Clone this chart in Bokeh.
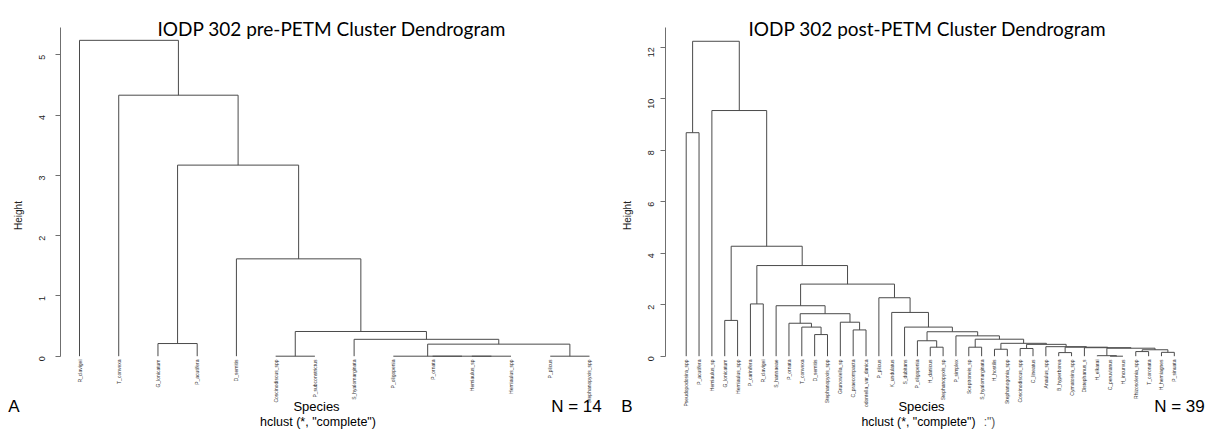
import math
from bokeh.plotting import figure
from bokeh.models import FixedTicker, LinearAxis, Range1d
from bokeh.core.properties import value
from bokeh.layouts import row
from bokeh.embed import file_html
from bokeh.resources import INLINE

# ---------------- data: pre-PETM ----------------
pre_labels = ["R_clavigei", "T_convexa", "G_lonicatum", "P_acutifera", "D_semitis",
              "Coscinodiscus_spp", "P_subconstrictus", "S_hyalomarginata", "P_oligopenia",
              "P_ornata", "Hemiaulus_sp", "Hemiaulus_spp", "P_plicus", "Stephanopyxis_spp"]
# R hclust style merge matrix (negative = leaf, positive = earlier merge)
pre_merge_a = [-11, -10, -9, -6, -13, 3, -3, -8, 4, -5, 7, -2, -1]
pre_merge_b = [-12, 1, 2, -7, -14, 5, -4, 6, 8, 9, 10, 11, 12]
pre_height = [0.0, 0.0, 0.0, 0.0, 0.0, 0.20, 0.21, 0.28, 0.41, 1.615, 3.17, 4.33, 5.24]
pre_yticks = [0, 1, 2, 3, 4, 5]

# ---------------- data: post-PETM ----------------
post_labels = ["Pseudopodosira_spp", "P_acutifera", "Hemiaulus_sp", "G_lonicatum", "Hemiaulus_spp",
               "P_carinifera", "R_clavigei", "S_hannaeae", "P_ornata", "T_convexa", "D_semitis",
               "Stephanopyxis_spp", "Grunowiella_sp", "C_praecompacta", "odontella_var_danica",
               "P_plicus", "K_undulatus", "S_dubitans", "P_oligopenia", "H_danicus",
               "Stephanopyxis_sp", "P_simplex", "Sceptroneis_sp", "S_hyalomarginata", "H_hostilis",
               "Stephanogonia_spp", "Coscinodiscus_spp", "C_lineatus", "Anaulus_spp", "B_hyperborea",
               "Cymatosira_spp", "Distephanus_s", "H_elkarai", "C_peruvianus", "H_incurvus",
               "Rhizosolenia_spp", "T_coronata", "H_hemiagnes", "P_sinuata"]
post_merge_a = [-11, -10, -9, -14, -13, 3, -8, -20, -19, -23, -25, -27, -30, -34, -33, -38, -36,
                17, 15, -32, 13, -29, 12, 11, 10, -22, 9, -18, -17, -16, 7, -6, 32, -4, 34, -3, -1, 37]
post_merge_b = [-12, 1, 2, -15, 4, 5, 6, -21, 8, -24, -26, -28, -31, -35, 14, -39, -37,
                16, 18, 19, 20, 21, 22, 23, 24, 25, 26, 27, 28, 29, 30, -7, 31, -5, 33, 35, -2, 36]
post_height = [0.84, 1.13, 1.28, 1.02, 1.32, 1.65, 1.96, 0.35, 0.60, 0.35, 0.27, 0.30, 0.14, 0.0,
               0.02, 0.15, 0.18, 0.25, 0.31, 0.33, 0.35, 0.37, 0.46, 0.50, 0.66, 0.79, 0.95, 1.13,
               1.70, 2.27, 2.80, 2.03, 3.52, 1.39, 4.27, 9.54, 8.68, 12.23]
post_yticks = [0, 2, 4, 6, 8, 10, 12]

LINE = "#4a4a4a"
AXIS = "#6f6f6f"
SANS = "Liberation Sans"
TITLE_FONT = "Lato"
H = 430


def dendro_paths(ma, mb, h):
    pos = {}

    def xpos(k):
        if k < 0:
            return float(-k)
        if k not in pos:
            pos[k] = (xpos(ma[k - 1]) + xpos(mb[k - 1])) / 2.0
        return pos[k]

    def ypos(k):
        return 0.0 if k < 0 else h[k - 1]

    xs, ys = [], []
    for i in range(len(h)):
        a, b = ma[i], mb[i]
        xa, xb = xpos(a), xpos(b)
        xs.append([xa, xa, xb, xb])
        ys.append([ypos(a), h[i], h[i], ypos(b)])
    return xs, ys


class Panel:
    """Maps window pixels of the reference to data coordinates of one panel."""

    def __init__(self, frame_left, width, leaf1_px, pitch, zero_px, unit_px):
        self.fl, self.w = frame_left, width
        self.leaf1, self.pitch = leaf1_px, pitch
        self.zero, self.unit = zero_px, unit_px

    def dx(self, wx):
        return 1 + (wx - self.leaf1) / self.pitch

    def dy(self, wy):
        return (self.zero - wy) / self.unit


def make_panel(pan, offset, labels, ma, mb, h, yticks, axis_top, tick_standoff, label_standoff):
    border_left = pan.fl - offset
    p = figure(width=pan.w, height=H, output_backend="svg", toolbar_location=None,
               x_range=Range1d(pan.dx(pan.fl), pan.dx(offset + pan.w)),
               y_range=Range1d(pan.dy(H), pan.dy(0)),
               min_border_left=border_left, min_border_right=0,
               min_border_top=0, min_border_bottom=0)
    p.outline_line_color = None
    p.grid.visible = False
    p.xaxis.visible = False
    p.background_fill_color = "white"
    p.border_fill_color = "white"

    xs, ys = dendro_paths(ma, mb, h)
    p.multi_line(xs, ys, line_color=LINE, line_width=1)

    n = len(labels)
    p.text(x=list(range(1, n + 1)), y=[pan.dy(359)] * n, text=labels, angle=math.pi / 2,
           text_align="right", text_baseline="middle", text_font=value(SANS),
           text_font_size="5px", text_color="#333333")

    ya = p.yaxis[0]
    ya.bounds = (0, axis_top)
    ya.ticker = FixedTicker(ticks=yticks)
    ya.major_label_orientation = math.pi / 2
    ya.major_label_text_font_size = "9px"
    ya.major_label_text_font = SANS
    ya.major_label_text_color = "#222222"
    ya.major_label_standoff = tick_standoff
    ya.major_tick_out = 5
    ya.major_tick_in = 0
    ya.minor_tick_line_color = None
    ya.axis_line_color = AXIS
    ya.major_tick_line_color = AXIS
    ya.axis_label = "Height"
    ya.axis_label_text_font = SANS
    ya.axis_label_text_font_size = "10px"
    ya.axis_label_text_font_style = "normal"
    ya.axis_label_text_color = "#222222"
    ya.axis_label_standoff = label_standoff
    return p


def add_text(p, pan, wx, wy, text, size, font=SANS, align="center", baseline="middle", color="#000000"):
    p.text(x=[pan.dx(wx)], y=[pan.dy(wy)], text=[text], text_font=value(font),
           text_font_size=size, text_align=align, text_baseline=baseline, text_color=color)


def add_panel_letter(p, pan, wy, letter, standoff):
    # panel letter sits in the left border, carried by an extra axis with a single tick
    t = round(pan.dy(wy), 4)
    ax = LinearAxis(ticker=FixedTicker(ticks=[t]), major_label_overrides={t: letter})
    ax.axis_line_color = None
    ax.major_tick_line_color = None
    ax.minor_tick_line_color = None
    ax.major_tick_out = 0
    ax.major_tick_in = 0
    ax.major_label_standoff = standoff
    ax.major_label_orientation = "horizontal"
    ax.major_label_text_font = SANS
    ax.major_label_text_font_size = "17px"
    ax.major_label_text_color = "#000000"
    p.add_layout(ax, "left")


# left panel: frame x 60..610, leaves 79..589, zero at y=355.7, 60.28 px per unit
left = Panel(60, 610, 79.0, 39.23, 355.7, 60.28)
p1 = make_panel(left, 0, pre_labels, pre_merge_a, pre_merge_b, pre_height, pre_yticks, 5.46, 13, 10)
add_text(p1, left, 157, 28.3, "IODP 302 pre-PETM Cluster Dendrogram", "19px", TITLE_FONT, "left", "alphabetic")
add_text(p1, left, 316, 406, "Species", "13px")
add_text(p1, left, 317.5, 421, "hclust (*, \"complete\")", "12.5px")
add_text(p1, left, 576, 406, "N = 14", "17px")
add_panel_letter(p1, left, 406, "A", -10)

# right panel: frame x 665..1214, leaves 685.7..1173.8, zero at y=355.7, 25.75 px per unit
right = Panel(665, 604, 685.7, 12.845, 355.7, 25.75)
p2 = make_panel(right, 610, post_labels, post_merge_a, post_merge_b, post_height, post_yticks, 12.78, 9, 10)
add_text(p2, right, 748, 28.3, "IODP 302 post-PETM Cluster Dendrogram", "19px", TITLE_FONT, "left", "alphabetic")
add_text(p2, right, 921, 406, "Species", "13px")
add_text(p2, right, 918, 421, "hclust (*, \"complete\")", "12.3px")
add_text(p2, right, 989, 421, ":\")", "12px", color="#555555")
add_text(p2, right, 1179, 406, "N = 39", "17px")
add_panel_letter(p2, right, 406, "B", -14)

layout = row(p1, p2)
open("out.html", "w").write(file_html(layout, INLINE))
